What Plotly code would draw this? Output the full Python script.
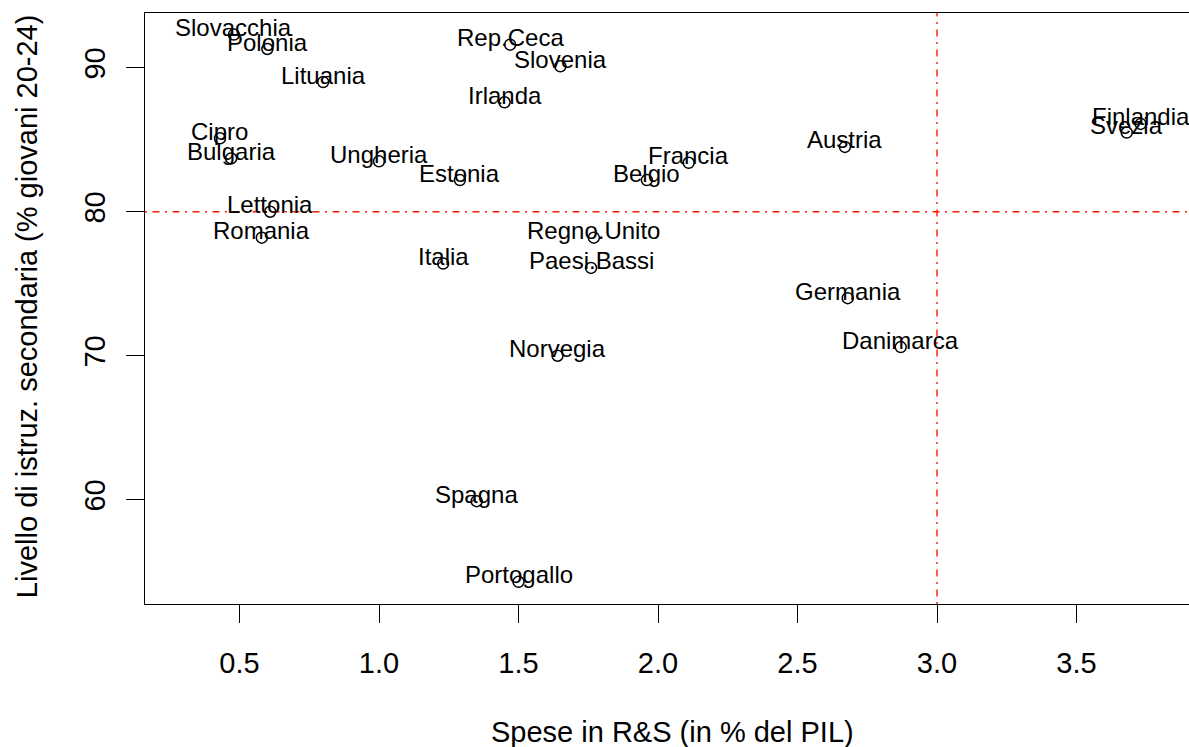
import plotly.graph_objects as go

# ---- data ----
paesi = ["Slovacchia", "Polonia", "Lituania", "Cipro", "Bulgaria", "Ungheria",
         "Lettonia", "Romania", "Rep.Ceca", "Slovenia", "Irlanda", "Estonia",
         "Belgio", "Francia", "Regno.Unito", "Austria", "Finlandia", "Svezia",
         "Italia", "Paesi.Bassi", "Norvegia", "Germania", "Danimarca",
         "Spagna", "Portogallo"]
spese_rs = [0.48, 0.60, 0.80, 0.43, 0.47, 1.00,
            0.61, 0.58, 1.47, 1.65, 1.45, 1.29,
            1.96, 2.11, 1.77, 2.67, 3.73, 3.68,
            1.23, 1.76, 1.64, 2.68, 2.87,
            1.35, 1.50]
istruzione = [92.3, 91.3, 89.0, 85.1, 83.7, 83.5,
              80.0, 78.2, 91.6, 90.1, 87.6, 82.2,
              82.2, 83.4, 78.2, 84.5, 86.1, 85.5,
              76.4, 76.1, 70.0, 74.0, 70.6,
              59.9, 54.3]
x_ticks = [0.5, 1.0, 1.5, 2.0, 2.5, 3.0, 3.5]
x_tick_labels = ["0.5", "1.0", "1.5", "2.0", "2.5", "3.0", "3.5"]
y_ticks = [60, 70, 80, 90]
y_tick_labels = ["60", "70", "80", "90"]
soglia_x = 3.0
soglia_y = 80
x_title = "Spese in R&S (in % del PIL)"
y_title = "Livello di istruz. secondaria (% giovani 20-24)"

FONT = "Liberation Sans, Arial, sans-serif"
X_RANGE = [0.1613, 3.9032]
Y_RANGE = [52.76, 93.80]

fig = go.Figure()

fig.add_trace(go.Scatter(
    x=spese_rs, y=istruzione, mode="markers",
    marker=dict(symbol="circle-open", size=11, color="black",
                line=dict(color="black", width=1.5)),
    hoverinfo="text", text=paesi, showlegend=False,
))

# reference lines
dash = "2px,5.5px,7px,5.5px"
fig.add_shape(type="line", xref="x", yref="paper", x0=soglia_x, x1=soglia_x,
              y0=0, y1=1, line=dict(color="#ff1a00", width=1.4, dash=dash))
fig.add_shape(type="line", xref="paper", yref="y", x0=0, x1=1,
              y0=soglia_y, y1=soglia_y,
              line=dict(color="#ff1a00", width=1.4, dash=dash))

# point labels
for n, xv, yv in zip(paesi, spese_rs, istruzione):
    fig.add_annotation(x=xv, y=yv, xref="x", yref="y", text=n,
                       showarrow=False, xanchor="center", yanchor="middle",
                       yshift=7, font=dict(family=FONT, size=24, color="black"))

# axis titles as annotations
fig.add_annotation(xref="paper", yref="paper", x=0.5048, y=0, text=x_title,
                   showarrow=False, xanchor="center", yanchor="middle",
                   yshift=-128, font=dict(family=FONT, size=29, color="black"))
fig.add_annotation(xref="paper", yref="paper", x=0, y=0.504, text=y_title,
                   showarrow=False, xanchor="center", yanchor="middle",
                   textangle=-90, xshift=-118,
                   font=dict(family=FONT, size=29, color="black"))

fig.update_layout(
    width=1189, height=747,
    margin=dict(l=145, r=0, t=13, b=143, pad=0),
    paper_bgcolor="white", plot_bgcolor="white",
    font=dict(family=FONT, size=29, color="black"),
    xaxis=dict(range=X_RANGE, showgrid=False, zeroline=False,
               showline=True, linecolor="black", linewidth=1.3, mirror=True,
               ticks="outside", ticklen=18, tickwidth=1.3, tickcolor="black",
               tickvals=x_ticks, ticktext=x_tick_labels,
               tickfont=dict(family=FONT, size=29, color="black"),
               ticklabelstandoff=15),
    yaxis=dict(range=Y_RANGE, showgrid=False, zeroline=False,
               showline=True, linecolor="black", linewidth=1.3, mirror=False,
               ticks="outside", ticklen=18, tickwidth=1.3, tickcolor="black",
               tickvals=y_ticks, ticktext=y_tick_labels, tickangle=-90,
               tickfont=dict(family=FONT, size=29, color="black"),
               ticklabelstandoff=9),
)

fig.write_html(
    "out.html",
    config={"displayModeBar": False},
    post_script="document.body.style.margin='0';document.body.style.padding='0';"
                "document.body.style.overflow='hidden';",
)
